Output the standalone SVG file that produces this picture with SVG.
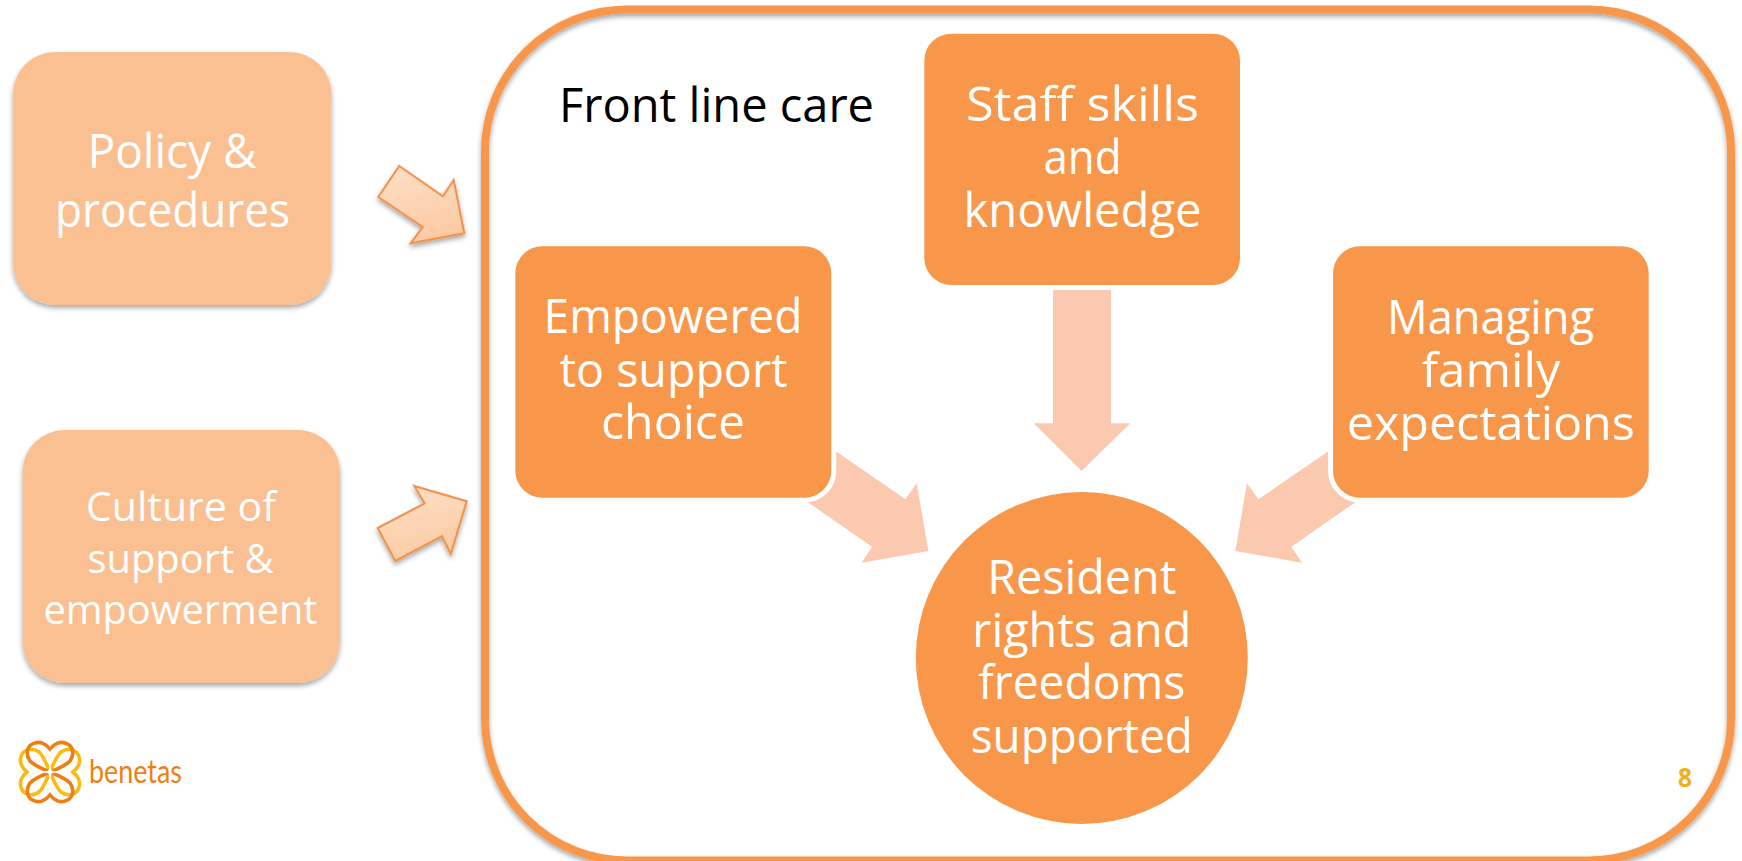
<svg xmlns="http://www.w3.org/2000/svg" width="1742" height="861" viewBox="0 0 1742 861">
<defs>
<filter id="sh" x="-10%" y="-10%" width="120%" height="120%"><feDropShadow dx="0" dy="3" stdDeviation="2.500" flood-color="#000" flood-opacity="0.35"/></filter>
<linearGradient id="ag" x1="0" y1="0" x2="0.3" y2="1"><stop offset="0" stop-color="#FDE0C8"/><stop offset="1" stop-color="#FCCBA4"/></linearGradient>
<path id="loop" d="M0,-23C4,-28 10,-31 15,-29C23,-27 25,-18 20,-11C12,-2 -12,2 -20,11C-25,18 -23,27 -15,29C-10,31 -4,28 0,23C4,28 10,31 15,29C23,27 25,18 20,11C12,2 -12,-2 -20,-11C-25,-18 -23,-27 -15,-29C-10,-31 -4,-28 0,-23Z"/>
<path id="strandA" d="M21,-16C17,-6 -17,6 -21,16"/>
</defs>
<style>
text{font-family:"Open Sans","Noto Sans","Liberation Sans",sans-serif;text-anchor:middle;fill:#fff}
.n{font-size:48px}
.s{font-size:41px}
.light{fill:#FBC092;filter:url(#sh)}
.main{fill:#F8974A;stroke:#fff;stroke-width:10;paint-order:stroke fill}
.fat{fill:#FBC9B0;stroke:none}
.small{fill:url(#ag);stroke:#F2914A;stroke-width:2;stroke-linejoin:miter;filter:url(#sh)}
</style>
<rect width="1742" height="861" fill="#fff"/>
<rect id="frame" x="485" y="9.500" width="1246" height="851" rx="142" ry="142" fill="none" stroke="#F8974A" stroke-width="8" filter="url(#sh)"/>
<g id="connectors">
<polygon class="small" points="399.300,166 443,196.300 453.700,180 464.300,233.300 410.700,243.300 422.700,227 378.300,197"/>
<polygon class="small" points="414.300,486 466.700,501.300 450.700,554 442,536 395.300,561 377.700,528 424.700,503.300"/>
<polygon class="fat" points="1053,290 1111,290 1111,423.300 1130.200,423.300 1081.600,471 1033.700,423.300 1053,423.300"/>
<polygon class="fat" points="836.600,451.700 905.500,499.300 916.600,483.300 928.500,551 861.500,562.700 872.200,546.700 803,499 820,460"/>
<polygon class="fat" points="1327.600,451.700 1258.400,499.300 1246.900,483.300 1235.400,551 1302,562.700 1291.300,546.700 1360,499 1344,460"/>
</g>
<g id="policy">
<rect class="light" x="13" y="52" width="318.500" height="253" rx="42"/>
<text class="n" x="172" y="168" textLength="169" lengthAdjust="spacingAndGlyphs">Policy &amp;</text>
<text class="n" x="172.500" y="226.500" textLength="235" lengthAdjust="spacingAndGlyphs">procedures</text>
</g>
<g id="culture">
<rect class="light" x="22.500" y="430" width="317.500" height="253" rx="42"/>
<text class="s" x="181" y="520.700" textLength="190" lengthAdjust="spacingAndGlyphs">Culture of</text>
<text class="s" x="180.500" y="573" textLength="186" lengthAdjust="spacingAndGlyphs">support &amp;</text>
<text class="s" x="180.500" y="624" textLength="274" lengthAdjust="spacingAndGlyphs">empowerment</text>
</g>
<g id="frontline">
<text x="716.500" y="121.700" font-size="48" style="fill:#000" textLength="315" lengthAdjust="spacingAndGlyphs">Front line care</text>
</g>
<g id="staff">
<rect class="main" x="924.300" y="33.700" width="315.700" height="251.300" rx="27"/>
<text class="n" x="1082.500" y="121" textLength="233" lengthAdjust="spacingAndGlyphs">Staff skills</text>
<text class="n" x="1082.500" y="174" textLength="78" lengthAdjust="spacingAndGlyphs">and</text>
<text class="n" x="1082.500" y="227" textLength="238" lengthAdjust="spacingAndGlyphs">knowledge</text>
</g>
<g id="empowered">
<rect class="main" x="515.300" y="246.300" width="316" height="251.400" rx="27"/>
<text class="n" x="673" y="333.300" textLength="259" lengthAdjust="spacingAndGlyphs">Empowered</text>
<text class="n" x="673.500" y="386.700" textLength="228" lengthAdjust="spacingAndGlyphs">to support</text>
<text class="n" x="673" y="439.300" textLength="144" lengthAdjust="spacingAndGlyphs">choice</text>
</g>
<g id="managing">
<rect class="main" x="1333" y="246.300" width="315.700" height="251.400" rx="27"/>
<text class="n" x="1490.500" y="334" textLength="207" lengthAdjust="spacingAndGlyphs">Managing</text>
<text class="n" x="1491" y="386.700" textLength="139" lengthAdjust="spacingAndGlyphs">family</text>
<text class="n" x="1490.800" y="440" textLength="288" lengthAdjust="spacingAndGlyphs">expectations</text>
</g>
<g id="resident">
<circle cx="1081.800" cy="658" r="166" fill="#F8974A"/>
<text class="n" x="1081.800" y="594" textLength="189" lengthAdjust="spacingAndGlyphs">Resident</text>
<text class="n" x="1081.800" y="646.700" textLength="219" lengthAdjust="spacingAndGlyphs">rights and</text>
<text class="n" x="1081.800" y="699.300" textLength="207" lengthAdjust="spacingAndGlyphs">freedoms</text>
<text class="n" x="1081.800" y="752.700" textLength="222" lengthAdjust="spacingAndGlyphs">supported</text>
</g>
<g id="logo" transform="translate(50,772)" fill="none" stroke-width="3.600">
<use href="#loop" stroke="#FDB913" transform="rotate(90)"/>
<use href="#loop" stroke="#F07F13"/>
<polygon fill="#fff" stroke="none" points="0,-8 1.500,-1.500 8,0 1.500,1.500 0,8 -1.500,1.500 -8,0 -1.500,-1.500"/>
</g>
<text id="brand" x="135.500" y="783" font-size="33" style="fill:#F07F13;font-family:Lato,'Noto Sans',sans-serif" textLength="93" lengthAdjust="spacingAndGlyphs">benetas</text>
<text id="page" x="1685" y="786.700" font-size="26" font-weight="700" style="fill:#F2AE1C" textLength="14" lengthAdjust="spacingAndGlyphs">8</text>
</svg>
